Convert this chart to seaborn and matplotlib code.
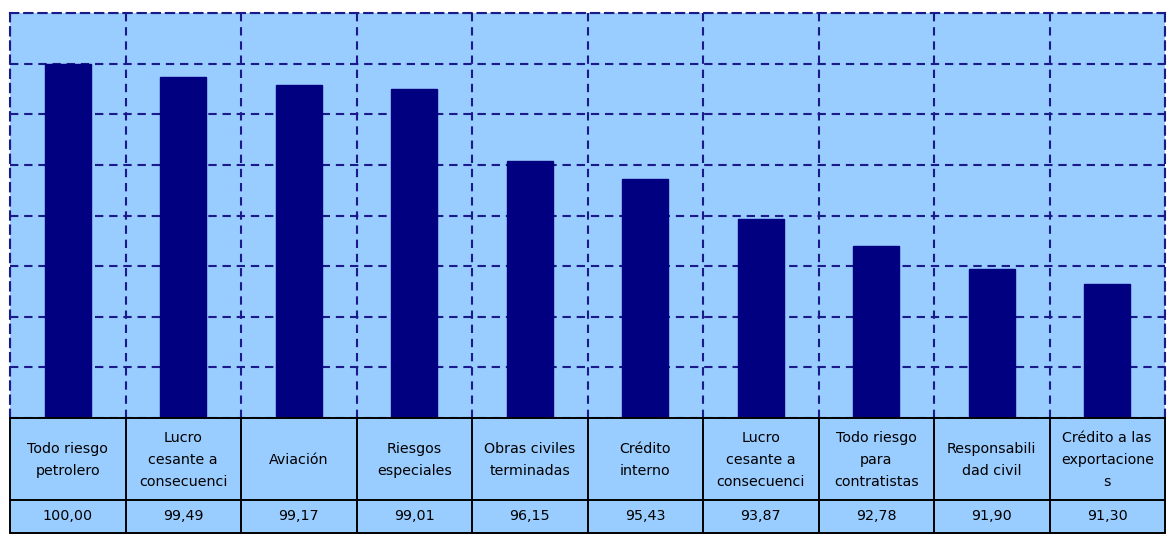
import matplotlib
matplotlib.use("Agg")
import matplotlib.pyplot as plt
import seaborn as sns
import pandas as pd
import numpy as np

etiquetas = [
    "Todo riesgo\npetrolero",
    "Lucro\ncesante a\nconsecuenci",
    "Aviación",
    "Riesgos\nespeciales",
    "Obras civiles\nterminadas",
    "Crédito\ninterno",
    "Lucro\ncesante a\nconsecuenci",
    "Todo riesgo\npara\ncontratistas",
    "Responsabili\ndad civil",
    "Crédito a las\nexportacione\ns",
]
valores = [100.00, 99.49, 99.17, 99.01, 96.15, 95.43, 93.87, 92.78, 91.90, 91.30]
valores_txt = ["100,00", "99,49", "99,17", "99,01", "96,15", "95,43", "93,87", "92,78", "91,90", "91,30"]

sns.set_theme(style="white")
plt.rcParams["font.family"] = ["DejaVu Sans"]

BG = "#99CCFF"
NAVY = "#000080"
GRID = "#1a1a8a"

W, H = 1169, 536
fig = plt.figure(figsize=(W / 100, H / 100), dpi=100)
fig.patch.set_facecolor("white")

left, right, top, bottom = 10, 1165, 13, 418
ax = fig.add_axes([left / W, 1 - bottom / H, (right - left) / W, (bottom - top) / H])
ax.set_facecolor(BG)

df = pd.DataFrame({"pos": [str(i) for i in range(len(valores))], "valor": valores})
sns.barplot(data=df, x="pos", y="valor", color=NAVY, width=0.4, ax=ax,
            saturation=1, edgecolor=NAVY, zorder=3)

ax.set_ylim(86, 102)
ax.set_xlim(-0.5, len(valores) - 0.5)
ax.set_yticks(np.arange(86, 103, 2))
ax.set_xticks(np.arange(-0.5, len(valores), 1.0))
ax.tick_params(left=False, bottom=False, labelleft=False, labelbottom=False)
ax.set_xlabel("")
ax.set_ylabel("")
dash = (0, (4.0, 2.8))
ax.grid(True, color=GRID, linestyle=dash, linewidth=1.5, zorder=1)
ax.set_axisbelow(True)
for s in ["top", "left", "right"]:
    ax.spines[s].set_visible(True)
    ax.spines[s].set_color(GRID)
    ax.spines[s].set_linestyle(dash)
    ax.spines[s].set_linewidth(1.5)
ax.spines["bottom"].set_visible(False)

# Data table below
tbl_bottom = 533
axt = fig.add_axes([left / W, 1 - tbl_bottom / H, (right - left) / W, (tbl_bottom - bottom) / H])
axt.set_xlim(-0.5, len(valores) - 0.5)
axt.set_ylim(tbl_bottom - bottom, 0)
axt.axis("off")
axt.add_patch(plt.Rectangle((-0.5, 0), len(valores), tbl_bottom - bottom, facecolor=BG, edgecolor="none", zorder=0))
row1 = 82
for i in range(len(valores) + 1):
    axt.plot([i - 0.5, i - 0.5], [0, tbl_bottom - bottom], color="black", lw=1.4, clip_on=False)
for yy in [0, row1, tbl_bottom - bottom]:
    axt.plot([-0.5, len(valores) - 0.5], [yy, yy], color="black", lw=1.4, clip_on=False)
for i, (lab, vt) in enumerate(zip(etiquetas, valores_txt)):
    axt.text(i, row1 / 2 + 1, lab, ha="center", va="center", fontsize=10.3, linespacing=1.7, color="black")
    axt.text(i, (row1 + tbl_bottom - bottom) / 2, vt, ha="center", va="center", fontsize=10.3, color="black")

fig.savefig("out.png", dpi=100, facecolor="white")
